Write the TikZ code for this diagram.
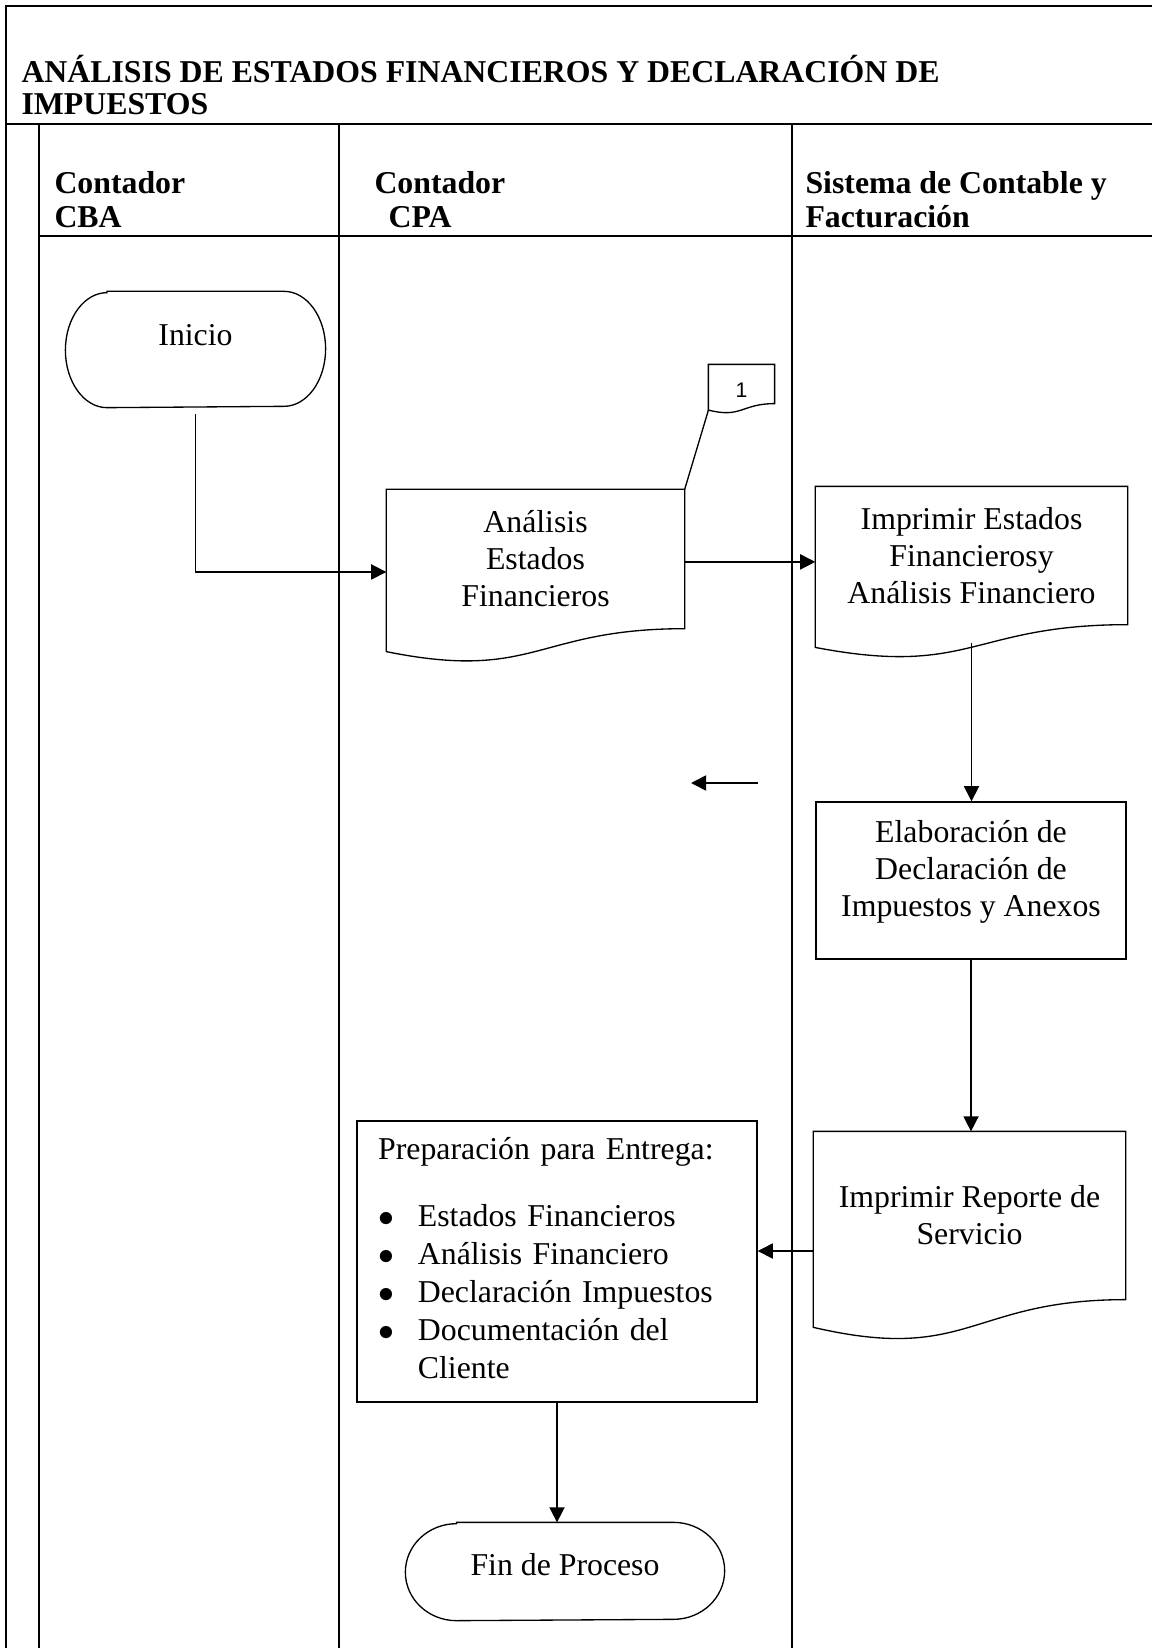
\documentclass[tikz,border=0pt]{standalone}
\usepackage{fontspec}
\setmainfont{Liberation Serif}
\newfontfamily\arialfont{Liberation Sans}
\usetikzlibrary{arrows.meta,calc}

\tikzset{
  marco/.style={line width=0.75pt},
  caja/.style={draw, line width=0.5pt, inner sep=0pt, align=center, font=\fontsize{12}{14}\selectfont},
  hueco/.style={caja, draw=none},
  flecha/.style={line width=0.6pt, -{Triangle[length=5.7pt,width=5.7pt]}},
  titulo/.style={font=\fontsize{12}{12.45}\selectfont\bfseries, align=left, inner sep=0pt, anchor=base west},
  carril/.style={font=\fontsize{12}{13.2}\selectfont\bfseries, align=left, inner sep=0pt, anchor=base west},
}

% outline of a document shape (wavy bottom) round a node
\newcommand{\documento}[1]{%
  \draw [line width=0.5pt] let \p1=($(#1.north)-(#1.south)$) in
    (#1.north west) -- (#1.north east) -- (#1.south east)
    .. controls (#1.south) and ([yshift={-0.381*\y1}]#1.south)
    .. ([yshift={-0.1646*\y1}]#1.south west) -- cycle;}
% outline of a terminal shape: node, x radius, y radius
\newcommand{\terminador}[3]{%
  \draw [line width=0.5pt] ([xshift=#2]#1.north west) -- ([xshift=-#2]#1.north east)
    arc [start angle=90, end angle=-90, x radius=#2, y radius=#3]
    -- ([xshift=#2]#1.south west)
    arc [start angle=270, end angle=90, x radius=#2, y radius=#3] -- cycle;}

\begin{document}
\begin{tikzpicture}[x=0.3774pt,y=-0.3774pt]
				\useasboundingbox (0,0) rectangle (1152,1648);

				%Straight Lines: frame and lanes
				\draw [marco] (1152,6) -- (6,6) -- (6,1648);
				\draw [marco] (6,124) -- (1152,124);
				\draw [marco] (39,124) -- (39,1648);
				\draw [marco] (339,124) -- (339,1648);
				\draw [marco] (792,124) -- (792,1648);
				\draw [marco] (39,236) -- (1152,236);

				% Text Node (base = last line)
				\node [titulo] (titulo) at (21,115) {ANÁLISIS DE ESTADOS FINANCIEROS Y DECLARACIÓN DE\\IMPUESTOS};
				% Text Node
				\node [carril] (cba) at (54,228) {Contador\\CBA};
				% Text Node
				\node [carril] (cpa) at (374,228) {Contador\\\hspace*{5.3pt}CPA};
				% Text Node
				\node [carril] (sistema) at (805,228) {Sistema de Contable y\\Facturación};

				%Shape: Terminal
				\node [hueco, minimum width=97.7pt, minimum height=43.4pt, text depth=11pt] (inicio) at (195.5,349.5) {Inicio};
				\terminador{inicio}{15.7pt}{21.7pt}
				%Shape: Document
				\node [hueco, minimum width=112.1pt, minimum height=52.1pt] (analisis) at (535.5,559) {Análisis\\Estados\\Financieros};
				\documento{analisis}
				%Shape: Document
				\node [hueco, minimum width=24.5pt, minimum height=14.3pt, text height=10.5pt, font=\arialfont\fontsize{8}{9}\selectfont] (uno) at (741.5,384) {1};
				\documento{uno}
				%Shape: Document
				\node [hueco, minimum width=117.4pt, minimum height=51.7pt] (estados) at (971.5,555.5) {Imprimir Estados\\Financierosy\\Análisis Financiero};
				\documento{estados}
				%Shape: Rectangle
				\node [caja, minimum width=117pt, minimum height=59.3pt, text depth=9pt] (elabora) at (971,880.5) {Elaboración de\\Declaración de\\Impuestos y Anexos};
				%Shape: Document
				\node [hueco, minimum width=117.4pt, minimum height=63pt] (reporte) at (969.5,1215.5) {Imprimir Reporte de\\Servicio};
				\documento{reporte}
				%Shape: Rectangle
				\node [caja, minimum width=151pt, minimum height=106pt, inner xsep=8pt, text width=135pt, align=left, font=\fontsize{12}{14.3}\selectfont] (prepara) at (557,1261.5) {%
					\begin{tabular}{@{}l@{\hspace{9pt}}l@{}}
					\multicolumn{2}{@{}l@{}}{Preparación para Entrega:}\\[11pt]
					$\bullet$ & Estados Financieros\\
					$\bullet$ & Análisis Financiero\\
					$\bullet$ & Declaración Impuestos\\
					$\bullet$ & Documentación del\\
					 & Cliente
					\end{tabular}};
				%Shape: Terminal
				\node [hueco, minimum width=120pt, minimum height=36.6pt, text depth=5.6pt] (fin) at (565,1571.5) {Fin de Proceso};
				\terminador{fin}{19.3pt}{18.3pt}

				%Straight Lines
				\draw [line width=0.5pt] ([yshift=-2.5pt]uno.south west) -- (analisis.north east);
				\draw [flecha] ([yshift=-2.3pt]inicio.south) |- ([yshift=-4.9pt]analisis.west);
				\draw [flecha] ([yshift=-1.1pt]analisis.east) -- ([yshift=-1.1pt]analisis.east -| estados.west);
				\draw [flecha] ([yshift=-6.8pt]estados.south) -- (estados.south |- elabora.north);
				\draw [flecha] (elabora.south) -- (elabora.south |- reporte.north);
				\draw [flecha] ([yshift=-13.4pt]reporte.west) -- ([yshift=-13.4pt]reporte.west -| prepara.east);
				\draw [flecha] (prepara.south) -- (prepara.south |- fin.north);
				%Straight Lines [loose arrow]
				\coordinate (sueltoA) at (758,783);
				\coordinate (sueltoB) at (691,783);
				\draw [flecha] (sueltoA) -- (sueltoB);

\end{tikzpicture}
\end{document}
